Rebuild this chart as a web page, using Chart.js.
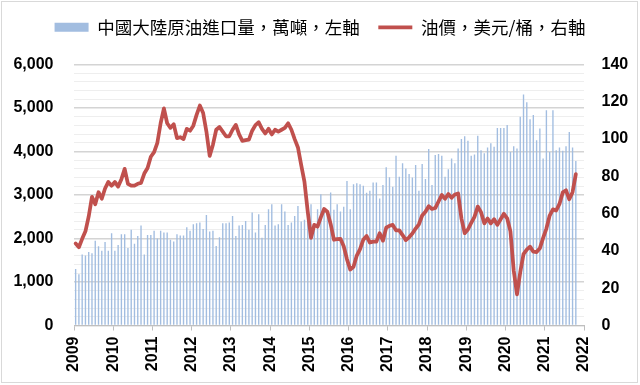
<!DOCTYPE html>
<html><head><meta charset="utf-8">
<script src="https://cdn.jsdelivr.net/npm/chart.js@4/dist/chart.umd.min.js"></script>
<style>html,body{margin:0;padding:0;background:#fff}canvas{display:block}</style>
</head><body>
<canvas id="c" width="640" height="385"></canvas>
<script>
// ---- tick labels / categories ----
const yearLabels = ['2009','2010','2011','2012','2013','2014','2015','2016','2017','2018','2019','2020','2021','2022'];
const importSeriesName = '中國大陸原油進口量，萬噸，左軸';
const priceSeriesName = '油價，美元/桶，右軸';

// ---- series values (monthly, 2009-01 .. 2021-10) ----
const imports = [
  1300,1180,1630,1610,1690,1660,1950,1820,1720,1920,1720,2120,
  1720,1850,2100,2100,1780,2200,1880,2060,2300,1630,2080,2080,
  2180,2000,2180,2140,2140,1970,1930,2100,2070,2070,2260,2180,
  2330,2350,2370,2220,2540,2160,2180,1830,2030,2350,2350,2370,
  2520,2060,2300,2310,2400,2200,2600,2140,2560,2020,2310,2670,
  2790,2300,2330,2790,2620,2310,2370,2520,2750,2390,2430,2560,
  2790,2310,2670,3020,2670,2620,3060,2660,2790,2620,2730,3320,
  2670,3250,3270,3250,3210,3050,3100,3290,3290,2920,3230,3640,
  3410,3190,3900,3420,3730,3610,3480,3400,3690,3100,3710,3370,
  4060,3230,3920,3940,3900,3420,3590,3840,3730,4070,4290,4350,
  4250,3900,3930,4360,4030,3960,4090,4190,4110,4540,4540,4540,
  4610,3990,4120,4070,4800,5310,5130,4740,4840,4260,4530,3840,
  4950,3990,4950,4030,4090,4020,4120,4450,4090,3780
];
const oilPrice = [
  44,42,46.5,50.5,58.5,69,65,71.5,68,73.5,77,75,
  77,74.5,78.5,84,76,75,75,76,76.5,81.5,84.5,90.5,
  93,98,108.5,116.5,108.5,106,108,100.5,101,100,105.5,104.5,
  107.2,113,118,114,104,91,97,105,106.5,104,101.5,101.5,
  105,107.6,102.5,99,99.4,99.7,104.5,107.5,109,105.5,103,105.5,
  102.5,105,104,105,106,108.5,105,100,95.5,86,77,61,
  47,54,53,58,62.5,61,54.5,46,46.3,46.5,42.5,35.5,
  30,31.5,37.5,41,46,48,44.5,45,45,49.5,45.5,52.5,
  53.5,54,51,51,48.5,45.8,47.3,49.3,52,54.3,59,61,
  64,62.5,63,66.5,70,68,70.5,68.5,70.3,70.8,57.5,49.5,
  51.5,55,58.3,63.8,60.8,54.8,57.4,54.8,57,54,57,59.9,
  57.5,50.5,29.5,16.7,28.6,38.3,40.7,42.3,39.6,39.4,41.4,47,
  52,59,62.3,61.7,65.2,71.4,72.5,67.7,71.5,81.2
];

// monthly categories built from the year labels
const months = [];
yearLabels.slice(0, 13).forEach(y => {
  for (let m = 1; m <= 12; m++) months.push(y + '-' + String(m).padStart(2, '0'));
});

const tickFont = {family: "'Liberation Sans', Arial, sans-serif", size: 16, weight: 'bold'};

const framePlugin = {
  id: 'frame',
  beforeDraw(chart) {
    const ctx = chart.ctx;
    ctx.save();
    ctx.fillStyle = '#ffffff';
    ctx.fillRect(0, 0, chart.width, chart.height);
    ctx.strokeStyle = '#d9d9d9';
    ctx.lineWidth = 1;
    ctx.strokeRect(1.5, 1.5, chart.width - 4, chart.height - 4);
    ctx.restore();
  }
};
const legendSpace = {
  id: 'legendSpace',
  beforeUpdate(chart) {
    const lg = chart.legend;
    if (lg && !lg._wrappedFit) {
      const f = lg.fit;
      lg.fit = function () { f.call(this); this.height = 64.5; };
      lg._wrappedFit = true;
    }
  }
};

new Chart(document.getElementById('c'), {
  data: {
    labels: months,
    datasets: [
      {
        type: 'bar', label: importSeriesName, data: imports,
        xAxisID: 'x', yAxisID: 'y',
        backgroundColor: '#A2BDE0', borderWidth: 0,
        barPercentage: 0.42, categoryPercentage: 1,
        order: 2, pointStyle: 'rect'
      },
      {
        type: 'line', label: priceSeriesName, data: oilPrice,
        xAxisID: 'x', yAxisID: 'y1',
        borderColor: '#C0504D', backgroundColor: '#C0504D',
        borderWidth: 3.75, pointRadius: 0, tension: 0,
        borderJoinStyle: 'round', borderCapStyle: 'round',
        order: 1, pointStyle: 'line'
      }
    ]
  },
  options: {
    responsive: false, devicePixelRatio: 1, animation: false,
    layout: {padding: 0},
    plugins: {
      legend: {
        position: 'top',
        labels: {
          usePointStyle: true, pointStyleWidth: 34, boxHeight: 9, padding: 18.5,
          color: '#000',
          font: {family: "'Noto Sans CJK TC', 'Noto Sans CJK SC', sans-serif", size: 17.5},
          sort: (a, b) => a.datasetIndex - b.datasetIndex
        }
      },
      tooltip: {enabled: false}
    },
    scales: {
      x: {type: 'category', display: false, offset: true, grid: {display: false}},
      x2: {
        type: 'linear', position: 'bottom', min: 0, max: 156,
        afterFit: s => { s.height = 59.5; },
        grid: {drawOnChartArea: false, drawTicks: true, tickLength: 5, color: '#bfbfbf', lineWidth: 1},
        border: {display: true, color: '#bfbfbf'},
        ticks: {
          stepSize: 12, autoSkip: false, maxRotation: 90, minRotation: 90, padding: 6,
          color: '#000', font: tickFont,
          callback: v => yearLabels[Math.round(v / 12)]
        }
      },
      y: {
        position: 'left', min: 0, max: 6000,
        afterFit: s => { s.width = 74; },
        border: {display: false},
        grid: {
          drawTicks: false,
          color: c => (c.tick.value % 1000 === 0 ? '#d4d4d4' : '#eeeeee'),
          lineWidth: c => (c.tick.value % 1000 === 0 ? 1.5 : 1)
        },
        ticks: {
          stepSize: 200, autoSkip: false, padding: 20.5, color: '#000', font: tickFont,
          callback: v => (v % 1000 === 0 ? v.toLocaleString('en-US') : '')
        }
      },
      y1: {
        position: 'right', min: 0, max: 140,
        afterFit: s => { s.width = 56; },
        border: {display: false},
        grid: {drawOnChartArea: false, drawTicks: false},
        ticks: {stepSize: 20, padding: 17.5, color: '#000', font: tickFont}
      }
    }
  },
  plugins: [framePlugin, legendSpace]
});
</script>
</body></html>
